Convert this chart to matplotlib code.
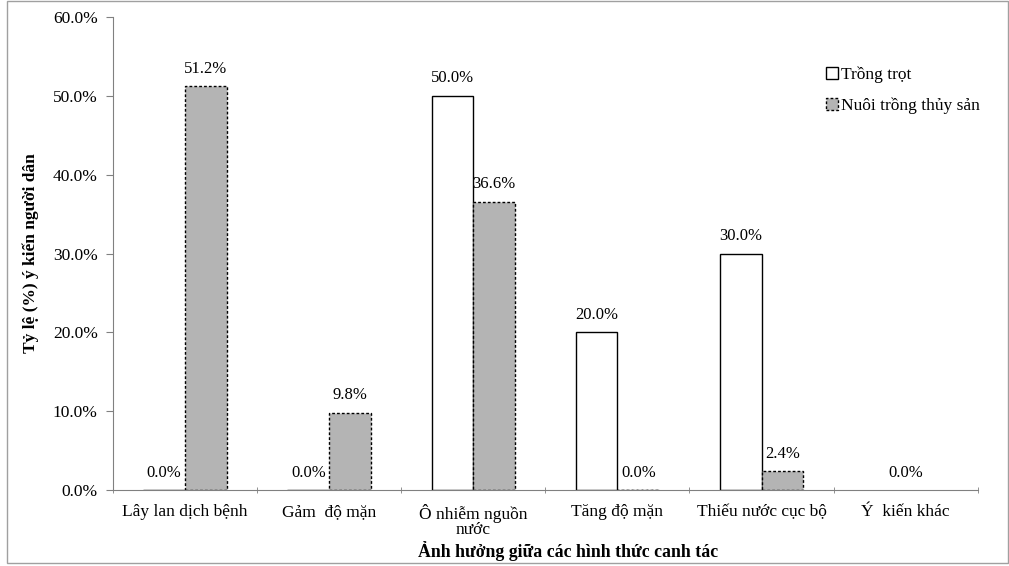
import matplotlib.pyplot as plt
import numpy as np
from matplotlib.patches import Rectangle

plt.rcParams['font.family'] = ['Liberation Serif', 'DejaVu Serif']

# Survey data: share of respondents (%) per impact type
categories = ["Lây lan dịch bệnh", "Gảm  độ mặn", "Ô nhiễm nguồn\nnước",
              "Tăng độ mặn", "Thiếu nước cục bộ", "Ý  kiến khác"]
trong_trot = [0.0, 0.0, 50.0, 20.0, 30.0, 0.0]
nuoi_trong = [51.2, 9.8, 36.6, 0.0, 2.4, 0.0]
y_ticks = [0, 10, 20, 30, 40, 50, 60]

fig = plt.figure(figsize=(10.09, 5.66), dpi=100)
ax = fig.add_axes([0.112, 0.134, 0.857, 0.836])

x = np.arange(len(categories))
w = 0.29
last = len(categories) - 1

# "Ý kiến khác" has no bars, just a single 0.0% label
b1 = ax.bar(x[:last] - w / 2, trong_trot[:last], w, color='white',
            edgecolor='black', linewidth=1.0, label='Trồng trọt')
b2 = ax.bar(x[:last] + w / 2, nuoi_trong[:last], w, color='#b4b4b4',
            edgecolor='black', linewidth=1.0, linestyle=(0, (2, 1.5)),
            label='Nuôi trồng thủy sản')

lbl_fs = 12
for i in range(last):
    ax.text(x[i] - w / 2, trong_trot[i] + 1.2, f"{trong_trot[i]:.1f}%",
            ha='center', va='bottom', fontsize=lbl_fs)
    ax.text(x[i] + w / 2, nuoi_trong[i] + 1.2, f"{nuoi_trong[i]:.1f}%",
            ha='center', va='bottom', fontsize=lbl_fs)
ax.text(x[last], trong_trot[last] + 1.2, f"{trong_trot[last]:.1f}%",
        ha='center', va='bottom', fontsize=lbl_fs)

ax.set_xlim(-0.5, len(categories) - 0.5)
ax.set_ylim(0, 60)
ax.set_yticks(y_ticks)
ax.set_yticklabels([f"{t:.1f}%" for t in y_ticks], fontsize=12.5)
ax.set_xticks(x)
ax.set_xticklabels(categories, fontsize=12.5, linespacing=0.9)
ax.tick_params(axis='x', length=0, pad=10)
ax.set_xticks(np.arange(-0.5, len(categories)), minor=True)
ax.tick_params(axis='x', which='minor', length=5, direction='inout', color='#808080')
ax.tick_params(axis='y', length=5, direction='out', color='#808080', pad=6)

for s in ['top', 'right']:
    ax.spines[s].set_visible(False)
for s in ['left', 'bottom']:
    ax.spines[s].set_color('#808080')

ax.set_ylabel("Tỷ lệ (%) ý kiến người dân", fontsize=12.5, fontweight='bold',
              labelpad=10)
fig.text(0.563, 0.008, "Ảnh hưởng giữa các hình thức canh tác",
         ha='center', va='bottom', fontsize=12.8, fontweight='bold')

ax.legend(loc='upper left', bbox_to_anchor=(0.824, 0.895), frameon=False,
          fontsize=12.5, handlelength=0.7, handleheight=0.7, handletextpad=0.2,
          labelspacing=0.85, borderaxespad=0, borderpad=0)

# outer frame around the chart area
fig.patches.append(Rectangle((0.007, 0.005), 0.992, 0.993, transform=fig.transFigure,
                             fill=False, edgecolor='#a0a0a0', linewidth=1.0))

fig.savefig("out.png", dpi=100)
